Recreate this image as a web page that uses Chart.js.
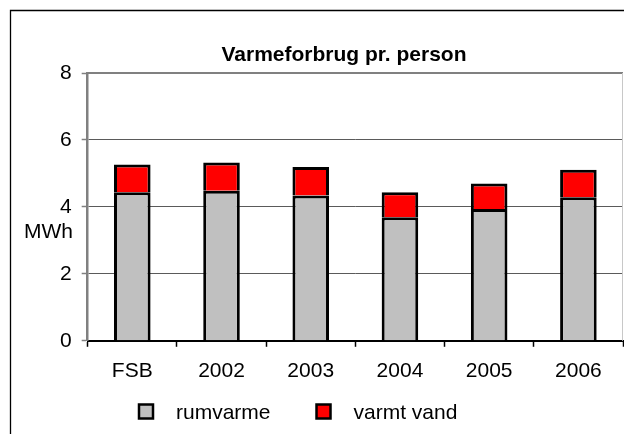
<!DOCTYPE html>
<html>
<head>
<meta charset="utf-8">
<title>Varmeforbrug pr. person</title>
<script src="https://cdn.jsdelivr.net/npm/chart.js@4.4.1/dist/chart.umd.min.js"></script>
<style>
  html, body { margin: 0; padding: 0; background: #fff; overflow: hidden; }
  #wrap { width: 624px; height: 434px; }
</style>
</head>
<body>
<div id="wrap"><canvas id="chart" width="624" height="434"></canvas></div>
<script>
// values (MWh per person)
const categories = ['FSB', '2002', '2003', '2004', '2005', '2006'];
const rumvarme = [4.44, 4.48, 4.34, 3.69, 3.94, 4.29];
const varmtVand = [0.83, 0.85, 0.85, 0.75, 0.76, 0.82];
const yTicks = [0, 2, 4, 6, 8];

const FONT = "'Liberation Sans', Arial, sans-serif";

// title, unit label, legend and the outer frame are drawn by hand
const decorations = {
    id: 'decorations',
    afterDraw(chart) {
        const ctx = chart.ctx;
        const area = chart.chartArea;
        ctx.save();

        // outer frame (right and bottom sides lie outside the picture)
        ctx.strokeStyle = '#000';
        ctx.lineWidth = 1.3;
        ctx.beginPath();
        ctx.moveTo(624, 10.5);
        ctx.lineTo(10.5, 10.5);
        ctx.lineTo(10.5, 434);
        ctx.stroke();

        // plot area border: top and right
        ctx.strokeStyle = '#808080';
        ctx.lineWidth = 2;
        ctx.beginPath();
        ctx.moveTo(area.left, area.top);
        ctx.lineTo(area.right, area.top);
        ctx.stroke();
        ctx.strokeStyle = '#c8c8c8';
        ctx.lineWidth = 1;
        ctx.beginPath();
        ctx.moveTo(area.right - 0.5, area.top);
        ctx.lineTo(area.right - 0.5, area.bottom);
        ctx.stroke();

        // title
        ctx.fillStyle = '#000';
        ctx.font = 'bold 21px ' + FONT;
        ctx.textAlign = 'center';
        ctx.textBaseline = 'alphabetic';
        ctx.fillText('Varmeforbrug pr. person', 344, 61);

        // unit label
        ctx.font = '21px ' + FONT;
        ctx.textAlign = 'right';
        ctx.fillText('MWh', 73, 237.5);

        // legend
        ctx.textAlign = 'left';
        let x = 139;
        chart.data.datasets.forEach(ds => {
            ctx.fillStyle = ds.backgroundColor;
            ctx.fillRect(x, 404.5, 14, 14);
            ctx.strokeStyle = '#000';
            ctx.lineWidth = 2.5;
            ctx.strokeRect(x, 404.5, 14, 14);
            ctx.fillStyle = '#000';
            ctx.fillText(ds.label, x + 37, 419);
            x += 37 + ctx.measureText(ds.label).width + 46;
        });

        ctx.restore();
    }
};

new Chart(document.getElementById('chart'), {
    type: 'bar',
    data: {
        labels: categories,
        datasets: [
            {
                label: 'rumvarme',
                data: rumvarme,
                backgroundColor: '#c0c0c0',
                borderColor: '#000',
                borderWidth: 3
            },
            {
                label: 'varmt vand',
                data: varmtVand,
                backgroundColor: '#ff0000',
                borderColor: '#000',
                borderWidth: 3
            }
        ]
    },
    options: {
        responsive: false,
        animation: false,
        layout: {
            padding: { top: 73, left: 50, right: 1, bottom: 38 }
        },
        datasets: {
            bar: { barPercentage: 0.41, categoryPercentage: 1 }
        },
        scales: {
            x: {
                stacked: true,
                grid: {
                    drawOnChartArea: false,
                    tickLength: 6,
                    tickColor: '#000',
                    tickWidth: 1.5
                },
                border: { color: '#000', width: 2 },
                ticks: {
                    color: '#000',
                    padding: 12,
                    font: { family: FONT, size: 21 }
                }
            },
            y: {
                stacked: true,
                min: 0,
                max: 8,
                afterBuildTicks(scale) {
                    scale.ticks = yTicks.map(v => ({ value: v }));
                },
                grid: {
                    color: '#5a5a5a',
                    lineWidth: 1,
                    tickLength: 6,
                    tickColor: '#808080',
                    tickWidth: 1.5
                },
                border: { color: '#808080', width: 2.5 },
                ticks: {
                    color: '#000',
                    padding: 10,
                    font: { family: FONT, size: 21 }
                }
            }
        },
        plugins: {
            legend: { display: false },
            title: { display: false },
            tooltip: { enabled: false }
        }
    },
    plugins: [decorations]
});
</script>
</body>
</html>
